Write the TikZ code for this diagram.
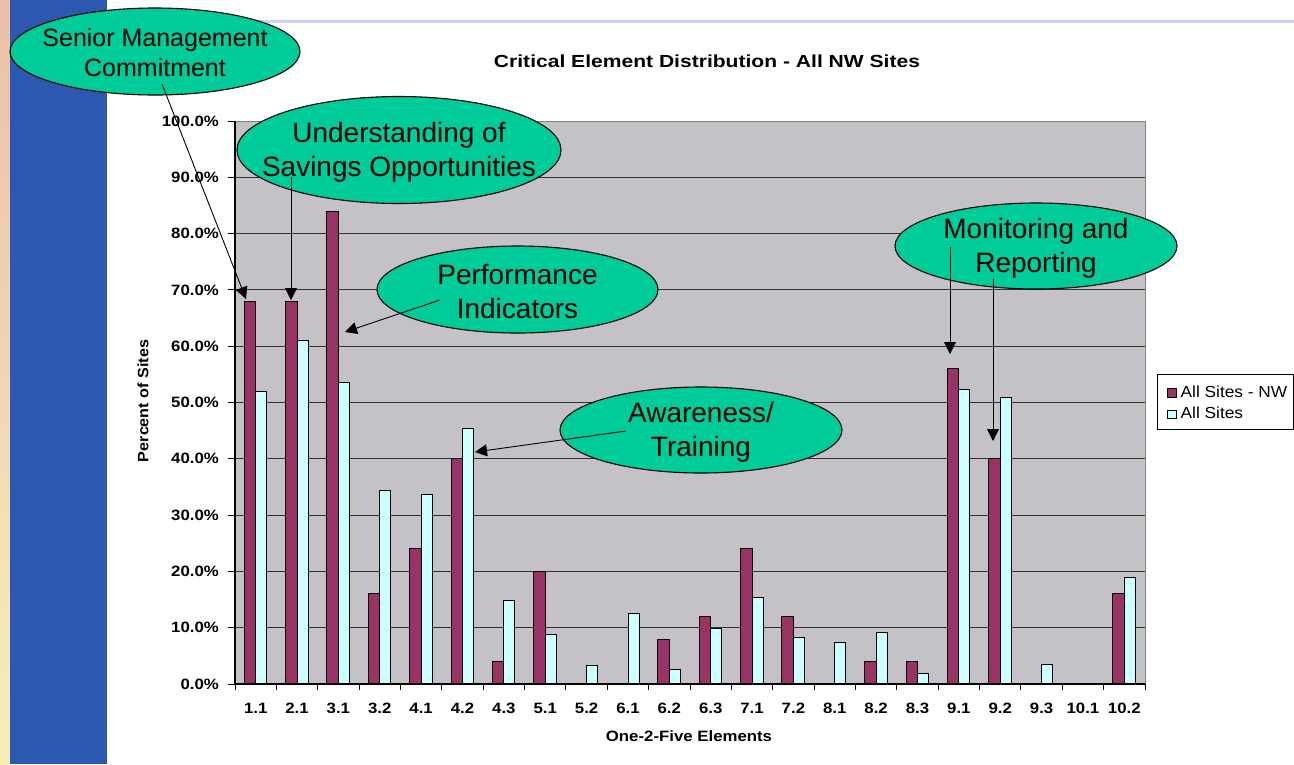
\documentclass[tikz,border=0pt]{standalone}
\usepackage{fontspec}
\setmainfont{Liberation Sans}
\usetikzlibrary{shapes.geometric,arrows.meta}
\definecolor{plum}{HTML}{993366}
\definecolor{paleCyan}{HTML}{CCFFFF}
\definecolor{plotbg}{HTML}{C4C2C6}
\definecolor{sideblue}{HTML}{2C59AF}
\definecolor{topline}{HTML}{C8D4F0}
\definecolor{calloutgreen}{HTML}{00CC99}
\definecolor{stripTop}{HTML}{EAC0A8}
\definecolor{stripBot}{HTML}{FAEEB8}
\newcommand{\chartfont}{\fontsize{15}{16}\selectfont\bfseries}
\newcommand{\sx}[1]{\scalebox{1.12}[1]{#1}}
\tikzset{
  callout/.style={ellipse, draw=black, line width=1.1pt, fill=calloutgreen, inner sep=0pt},
  callouttext/.style={align=center, inner sep=0pt, font=\fontsize{28}{34}\selectfont},
  arr/.style={line width=0.9pt, -{Triangle[length=12pt,width=12pt]}},
  barNW/.style={fill=plum, draw=black, line width=0.9pt},
  barAll/.style={fill=paleCyan, draw=black, line width=0.9pt},
  gridline/.style={draw=black!80, line width=0.9pt},
  ticklab/.style={inner sep=0pt, font=\chartfont},
}
\begin{document}
\begin{tikzpicture}[x=1pt,y=-1pt]
\useasboundingbox (0,0) rectangle (1294,764);
\fill[white] (0,0) rectangle (1294,764);
% side strip and top rule
\shade[top color=stripTop, bottom color=stripBot] (0,0) rectangle (10,764);
\fill[sideblue] (10,0) rectangle (107,764);
\fill[topline] (107,19.5) rectangle (1294,23);
% title
\node[inner sep=0pt, font=\fontsize{17.5}{20}\selectfont\bfseries] (title) at (707,61)
  {\resizebox{426pt}{\height}{Critical Element Distribution - All NW Sites}};
% plot area
\fill[plotbg] (235,121) rectangle (1145,684);
\foreach \i in {1,...,9} \draw[gridline] (235,{684-56.3*\i}) -- (1145,{684-56.3*\i});
\draw[gray, line width=1pt] (235,121) -- (1145,121) -- (1145,684);
% bars
\foreach \lab/\v/\w [count=\k from 0] in {1.1/68/52, 2.1/68/61, 3.1/84/53.5, 3.2/16/34.3, 4.1/24/33.6, 4.2/40/45.4, 4.3/4/14.8, 5.1/20/8.8, 5.2/0/3.3, 6.1/0/12.6, 6.2/8/2.6, 6.3/12/9.9, 7.1/24/15.3, 7.2/12/8.3, 8.1/0/7.4, 8.2/4/9.1, 8.3/4/1.8, 9.1/56/52.3, 9.2/40/50.9, 9.3/0/3.5, 10.1/0/0, 10.2/16/19}{
  \pgfmathsetmacro\cx{235+(\k+0.5)*41.364}
  \draw[barNW] ({\cx-11.5},684) rectangle (\cx,{684-5.63*\v});
  \draw[barAll] (\cx,684) rectangle ({\cx+11},{684-5.63*\w});
  \node[ticklab] (xl\k) at (\cx,708) {\sx{\lab}};
  \draw[line width=1pt] ({235+(\k+1)*41.364},684) -- ({235+(\k+1)*41.364},690);
}
% axes
\draw[line width=1.1pt] (235,121) -- (235,684) -- (1145,684);
\draw[line width=1pt] (235,684) -- (235,690);
\foreach \i/\t in {0/0.0,1/10.0,2/20.0,3/30.0,4/40.0,5/50.0,6/60.0,7/70.0,8/80.0,9/90.0,10/100.0}{
  \draw[line width=1pt] (228,{684-56.3*\i}) -- (235,{684-56.3*\i});
  \node[ticklab, anchor=east] (yl\i) at (219,{684-56.3*\i}) {\sx{\t\%}};
}
% axis titles
\node[inner sep=0pt, font=\chartfont, rotate=90] (ytitle) at (143,401)
  {\resizebox{122pt}{\height}{Percent of Sites}};
\node[inner sep=0pt, font=\chartfont] (xtitle) at (689,736) {\sx{One-2-Five Elements}};
% legend
\draw[black, fill=white, line width=1pt] (1157.5,374) rectangle (1293.5,429);
\fill[plum, draw=black, line width=0.8pt] (1167,388.5) rectangle (1176,397);
\fill[paleCyan, draw=black, line width=0.8pt] (1167,410) rectangle (1176,418.5);
\node[anchor=base west, inner sep=0pt, font=\fontsize{16}{16}\selectfont] (leg1) at (1180.5,397)
  {\scalebox{1.08}[1]{All Sites - NW}};
\node[anchor=base west, inner sep=0pt, font=\fontsize{16}{16}\selectfont] (leg2) at (1180.5,418.5)
  {\scalebox{1.08}[1]{All Sites}};
% callouts
\node[callout, minimum width=290pt, minimum height=87pt] (smc) at (155,51.5) {};
\node[callouttext, font=\fontsize{25}{30}\selectfont] (smcT) at (155,53) {Senior Management\\Commitment};
\node[callout, minimum width=324pt, minimum height=107pt] (und) at (399,150) {};
\node[callouttext] (undT) at (399,152) {Understanding of\\Savings Opportunities};
\node[callout, minimum width=281pt, minimum height=87pt] (perf) at (517.5,289.5) {};
\node[callouttext] (perfT) at (517.5,291.5) {Performance\\Indicators};
\node[callout, minimum width=282pt, minimum height=86pt] (aw) at (701,430) {};
\node[callouttext] (awT) at (701,432) {Awareness/\\Training};
\node[callout, minimum width=282pt, minimum height=86pt] (mon) at (1036,246) {};
\node[callouttext] (monT) at (1036,248) {Monitoring and\\Reporting};
% arrow ends
\coordinate (smcS) at (162,84);   \coordinate (smcE) at (246,299);
\coordinate (undS) at (291,177);  \coordinate (undE) at (291,300);
\coordinate (perfS) at (440,300); \coordinate (perfE) at (345,332);
\coordinate (awS) at (626,431);   \coordinate (awE) at (475,452);
\coordinate (monS1) at (950,247); \coordinate (monE1) at (950,354);
\coordinate (monS2) at (993,279); \coordinate (monE2) at (993,441);
\draw[arr] (smcS) -- (smcE);
\draw[arr] (undS) -- (undE);
\draw[arr] (perfS) -- (perfE);
\draw[arr] (awS) -- (awE);
\draw[arr] (monS1) -- (monE1);
\draw[arr] (monS2) -- (monE2);
\end{tikzpicture}
\end{document}
